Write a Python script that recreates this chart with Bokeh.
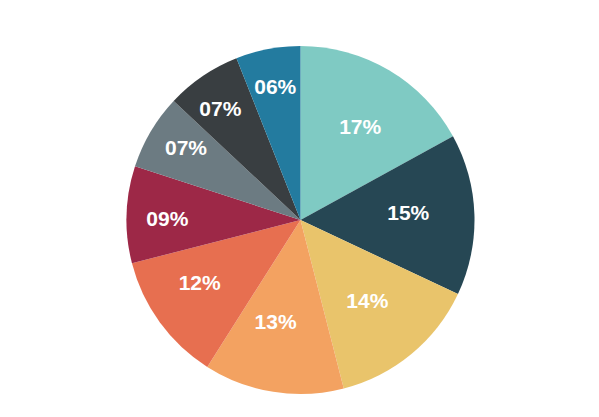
import math
from bokeh.plotting import figure
from bokeh.models import ColumnDataSource, Range1d
from bokeh.core.properties import value
from bokeh.embed import file_html
from bokeh.resources import INLINE

# Slice shares in percent, clockwise from 12 o'clock
shares = [17, 15, 14, 13, 12, 9, 7, 7, 6]
colors = ["#7fcac3", "#264754", "#e9c46b", "#f3a261", "#e76f50",
          "#9d2847", "#6c7b82", "#393e41", "#237b9f"]

W, H = 599, 417
CX, CY, R = 300, H - 219.5, 174
# label placement: distance from centre as fraction of radius,
# plus a small clockwise nudge (degrees) off the slice bisector
label_frac = [0.63, 0.62, 0.61, 0.61, 0.685, 0.765, 0.775, 0.78, 0.775]
label_nudge = [2.4, -1.4, 0.6, 4.6, 3.8, -1.8, 1.3, -2.0, 0.0]

total = float(sum(shares))
starts, ends, lx, ly, texts = [], [], [], [], []
cum = 0.0
for i, s in enumerate(shares):
    a0 = math.pi / 2 - 2 * math.pi * cum / total
    cum += s
    a1 = math.pi / 2 - 2 * math.pi * cum / total
    starts.append(a0)
    ends.append(a1)
    mid = (a0 + a1) / 2 - math.radians(label_nudge[i])
    lx.append(CX + label_frac[i] * R * math.cos(mid))
    ly.append(CY + label_frac[i] * R * math.sin(mid) + 1.5)
    texts.append(f"{s:02d}%")

src = ColumnDataSource(dict(start=starts, end=ends, color=colors))
lab = ColumnDataSource(dict(x=lx, y=ly, text=texts))

p = figure(width=W, height=H, x_range=Range1d(0, W), y_range=Range1d(0, H),
           output_backend="svg", toolbar_location=None, min_border=0)
p.axis.visible = False
p.grid.visible = False
p.outline_line_color = None
p.background_fill_color = "white"

p.wedge(x=CX, y=CY, radius=R, start_angle="start", end_angle="end",
        direction="clock", fill_color="color", line_color=None, source=src)
p.text(x="x", y="y", text="text", source=lab, text_color="white",
       text_font=value("Liberation Sans"), text_font_style="bold",
       text_font_size="21px", text_align="center", text_baseline="middle")

open("out.html", "w").write(file_html(p, INLINE))
